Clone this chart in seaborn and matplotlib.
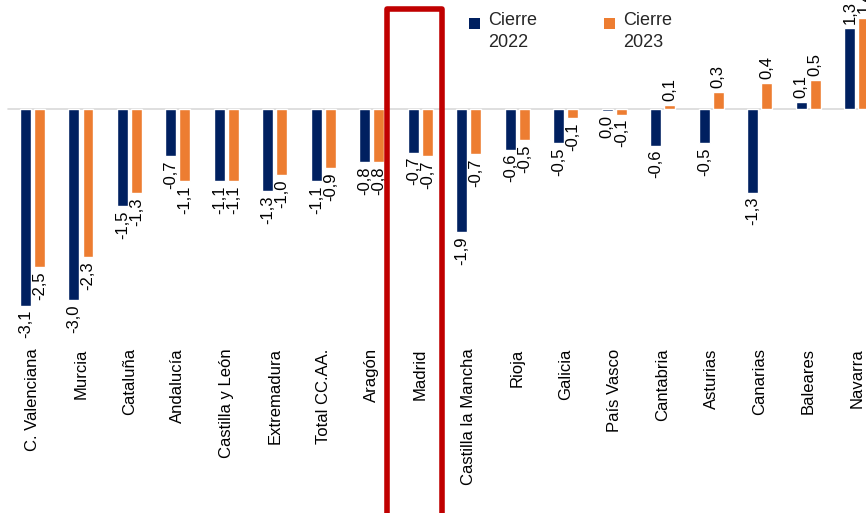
import numpy as np
import pandas as pd
import seaborn as sns
import matplotlib.pyplot as plt
from matplotlib.patches import Rectangle, Patch
from matplotlib.legend_handler import HandlerBase
from matplotlib.transforms import blended_transform_factory

regions = ["C. Valenciana", "Murcia", "Cataluña", "Andalucía", "Castilla y León",
           "Extremadura", "Total CC.AA.", "Aragón", "Madrid", "Castilla la Mancha",
           "Rioja", "Galicia", "País Vasco", "Cantabria", "Asturias", "Canarias",
           "Baleares", "Navarra"]
cierre_2022 = [-3.10, -3.01, -1.53, -0.74, -1.14, -1.29, -1.14, -0.84, -0.69, -1.94,
               -0.64, -0.54, -0.03, -0.58, -0.54, -1.32, 0.11, 1.28]
cierre_2023 = [-2.49, -2.34, -1.33, -1.14, -1.14, -1.04, -0.93, -0.84, -0.74, -0.71,
               -0.49, -0.14, -0.09, 0.06, 0.27, 0.41, 0.46, 1.44]
series = ["Cierre\n2022", "Cierre\n2023"]
highlight = "Madrid"

df = pd.DataFrame({"region": regions * 2,
                   "serie": [series[0]] * len(regions) + [series[1]] * len(regions),
                   "valor": cierre_2022 + cierre_2023})

colors = {series[0]: "#002060", series[1]: "#ED7D31"}

sns.set_theme(style="white")
plt.rcParams["font.family"] = ["Liberation Sans", "DejaVu Sans"]

fig = plt.figure(figsize=(8.66, 5.13), dpi=100)
ax = fig.add_axes([0, 1 - 340 / 513, 1, 340 / 513])

sns.barplot(data=df, x="region", y="valor", hue="serie", palette=colors,
            width=0.58, gap=0.22, ax=ax, legend=False, saturation=1)

def fmt(v):
    s = f"{v:.1f}".replace(".", ",")
    return "0,0" if s == "-0,0" else s

for cont, vals in zip(ax.containers, [cierre_2022, cierre_2023]):
    ax.bar_label(cont, labels=[fmt(v) for v in vals], rotation=90, padding=3,
                 fontsize=12, color="black", clip_on=False)

ax.set_xlim(-0.67, 17.19)
ax.set_ylim(-3.64, 1.717)
ax.axhline(0, xmin=8 / 866, xmax=1, color="#D9D9D9", lw=1.2, zorder=0)
for s in ax.spines.values():
    s.set_visible(False)
ax.set_yticks([])
ax.set_xlabel("")
ax.set_ylabel("")
ax.tick_params(axis="x", length=0, pad=6, labelsize=12, labelcolor="black")
plt.setp(ax.get_xticklabels(), rotation=90)

# red box around the highlighted region
i = regions.index(highlight)
tr = blended_transform_factory(ax.transData, fig.transFigure)
ax.add_patch(Rectangle((i - 0.691, -0.1), 1.134, 0.9834 + 0.1, transform=tr,
                       fill=False, edgecolor="#C00000", lw=4, joinstyle="round",
                       clip_on=False, zorder=5))


class TopSquare(HandlerBase):
    def create_artists(self, legend, orig_handle, xdescent, ydescent, width,
                       height, fontsize, trans):
        s = 0.6 * fontsize
        r = Rectangle((-xdescent, -ydescent + height - s * 1.15), s, s,
                      facecolor=orig_handle.get_facecolor(), edgecolor="none",
                      transform=trans)
        return [r]


handles = [Patch(facecolor=colors[s]) for s in series]
leg = fig.legend(handles, series, loc="upper left",
                 bbox_to_anchor=(469 / 866, 1 - 12 / 513),
                 ncol=2, frameon=False, fontsize=13, handler_map={Patch: TopSquare()},
                 handlelength=0.6, handleheight=2.3, handletextpad=0.45,
                 columnspacing=3.7, borderpad=0, borderaxespad=0, labelspacing=0)
for t in leg.get_texts():
    t.set_linespacing(1.35)

fig.savefig("out.png", dpi=100)
